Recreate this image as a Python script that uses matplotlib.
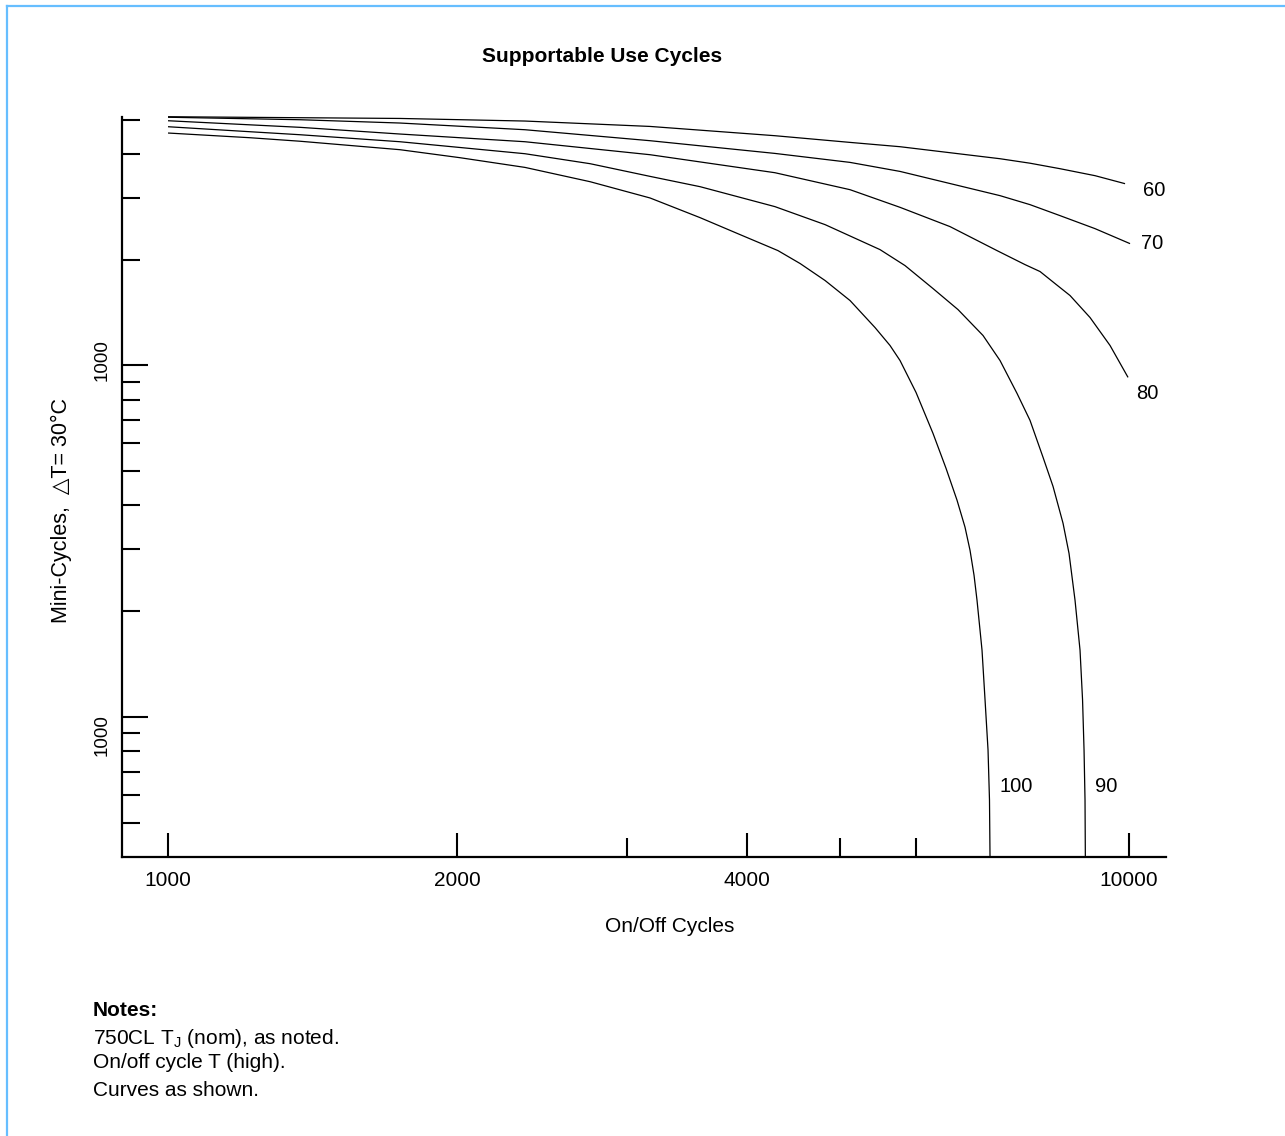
import matplotlib
matplotlib.use("Agg")
import matplotlib.pyplot as plt
from matplotlib.lines import Line2D
from matplotlib.ticker import FixedLocator, NullFormatter, FixedFormatter

plt.rcParams['font.family'] = ['Liberation Sans', 'DejaVu Sans']

# ---- data: On/Off cycles (x) vs Mini-Cycles (y) for each junction temperature curve
c60_x = [1000, 1743, 2352, 3174, 4281, 5125, 5777, 7341, 7888, 8476, 9218, 9905]
c60_y = [5099, 5042, 4957, 4785, 4503, 4310, 4190, 3873, 3761, 3628, 3466, 3289]

c70_x = [1000, 1372, 1743, 2352, 3174, 4281, 5125, 5777, 7341, 7888, 8476, 9218, 10024]
c70_y = [5082, 5000, 4893, 4683, 4358, 4010, 3781, 3564, 3041, 2867, 2668, 2450, 2221]

c80_x = [1000, 1372, 1743, 2352, 3174, 4281, 5125, 5777, 6512, 7288, 7794, 8080, 8375,
         8682, 9108, 9555, 9976]
c80_y = [4967, 4757, 4553, 4329, 3976, 3534, 3162, 2817, 2483, 2122, 1936, 1850, 1710,
         1581, 1369, 1140, 925]

c90_x = [1000, 1217, 1372, 1743, 2352, 2749, 3174, 3578, 4281, 4828, 5506, 5846, 6252,
         6638, 7048, 7341, 7646, 7888, 8138, 8335, 8537, 8661, 8786, 8892, 8946, 8978,
         8999, 9006]
c90_y = [4776, 4622, 4532, 4329, 4002, 3749, 3450, 3225, 2830, 2515, 2136, 1924, 1655,
         1442, 1217, 1033, 833, 698, 548, 453, 356, 292, 215, 155, 112, 80.6,
         58.1, 40]

c100_x = [1000, 1217, 1372, 1743, 2013, 2352, 2749, 3174, 3578, 3938, 4312, 4548, 4828,
          5125, 5441, 5640, 5777, 6003, 6252, 6450, 6622, 6750, 6832, 6898, 6947, 6997,
          7031, 7082, 7133, 7158, 7167]
c100_y = [4583, 4444, 4343, 4109, 3899, 3659, 3332, 2995, 2633, 2356, 2122, 1949, 1744,
          1530, 1282, 1140, 1033, 838, 641, 510, 414, 347, 298, 253, 215, 177,
          155, 112, 80.6, 58.1, 40]

curve_labels = ["60", "70", "80", "90", "100"]

x_major = [1000, 2000, 4000, 10000]
x_major_labels = ["1000", "2000", "4000", "10000"]
x_minor = [3000, 5000, 6000]
y_major = [100, 1000]
y_minor = [50, 60, 70, 80, 90, 200, 300, 400, 500, 600, 700, 800, 900,
           2000, 3000, 4000, 5000]
y_tick_text = ["1000", "1000"]

W, H = 1285, 1136
fig = plt.figure(figsize=(W / 100, H / 100), dpi=100)
fig.patch.set_facecolor('white')


def fx(px):
    return px / W


def fy(py):
    return 1 - py / H


ax = fig.add_axes([fx(122), fy(857), fx(1166) - fx(122), fy(117) - fy(857)])
ax.set_xscale('log')
ax.set_yscale('log')
ax.set_xlim(895.6, 10926)
ax.set_ylim(40, 5090)

for s in ['top', 'right']:
    ax.spines[s].set_visible(False)
for s in ['left', 'bottom']:
    ax.spines[s].set_linewidth(1.6)

curves = [(c60_x, c60_y), (c70_x, c70_y), (c80_x, c80_y), (c90_x, c90_y), (c100_x, c100_y)]
for (xs, ys) in curves:
    ax.plot(xs, ys, color='black', lw=0.9, clip_on=False,
            solid_joinstyle='round', solid_capstyle='butt')

# curve labels
offsets = {"60": (20.9, -5.0), "70": (15.8, 0.0), "80": (13.7, -11.5),
           "90": (15.1, 51.1), "100": (18.7, 51.1)}
for (xs, ys), lab in zip(curves, curve_labels):
    ax.annotate(lab, xy=(xs[-1], ys[-1]), xytext=offsets[lab],
                textcoords='offset points', ha='center', va='center',
                fontsize=14.5, annotation_clip=False)

# ticks
ax.xaxis.set_major_locator(FixedLocator(x_major))
ax.xaxis.set_major_formatter(FixedFormatter(x_major_labels))
ax.xaxis.set_minor_locator(FixedLocator(x_minor))
ax.xaxis.set_minor_formatter(NullFormatter())
ax.yaxis.set_major_locator(FixedLocator(y_major))
ax.yaxis.set_major_formatter(NullFormatter())
ax.yaxis.set_minor_locator(FixedLocator(y_minor))
ax.yaxis.set_minor_formatter(NullFormatter())

ax.tick_params(axis='x', which='major', direction='in', length=17, width=1.5,
               labelsize=15, pad=10)
ax.tick_params(axis='x', which='minor', direction='in', length=14, width=1.5)
ax.tick_params(axis='y', which='major', direction='in', length=18.7, width=1.5)
ax.tick_params(axis='y', which='minor', direction='in', length=13, width=1.5)

# y tick texts (rotated)
fig.text(fx(102), fy(360), y_tick_text[0], rotation=90, ha='center', va='center', fontsize=13.5)
fig.text(fx(102), fy(735), y_tick_text[1], rotation=90, ha='center', va='center', fontsize=13.5)

# axis labels and title
fig.text(fx(670), fy(927), "On/Off Cycles", ha='center', va='center', fontsize=15)
fig.text(fx(61), fy(511), "Mini-Cycles,  \u25B3T= 30\u00B0C", rotation=90,
         ha='center', va='center', fontsize=15.5)
fig.text(fx(602), fy(56), "Supportable Use Cycles", ha='center', va='center',
         fontsize=15, fontweight='bold')

# notes
fig.text(fx(93), fy(1011), "Notes:", ha='left', va='center', fontsize=15, fontweight='bold')
fig.text(fx(93), fy(1038), "750CL T$_\\mathregular{J}$ (nom), as noted.", ha='left', va='center', fontsize=15)
fig.text(fx(93), fy(1063), "On/off cycle T (high).", ha='left', va='center', fontsize=15)
fig.text(fx(93), fy(1090), "Curves as shown.", ha='left', va='center', fontsize=15)

# light blue frame (top and left)
frame_c = '#66BEFF'
fig.add_artist(Line2D([fx(7), 1.0], [fy(6), fy(6)], transform=fig.transFigure, color=frame_c, lw=1.6))
fig.add_artist(Line2D([fx(7.3), fx(7.3)], [0.0, fy(6)], transform=fig.transFigure, color=frame_c, lw=1.6))

fig.savefig("out.png", dpi=100, facecolor='white')
